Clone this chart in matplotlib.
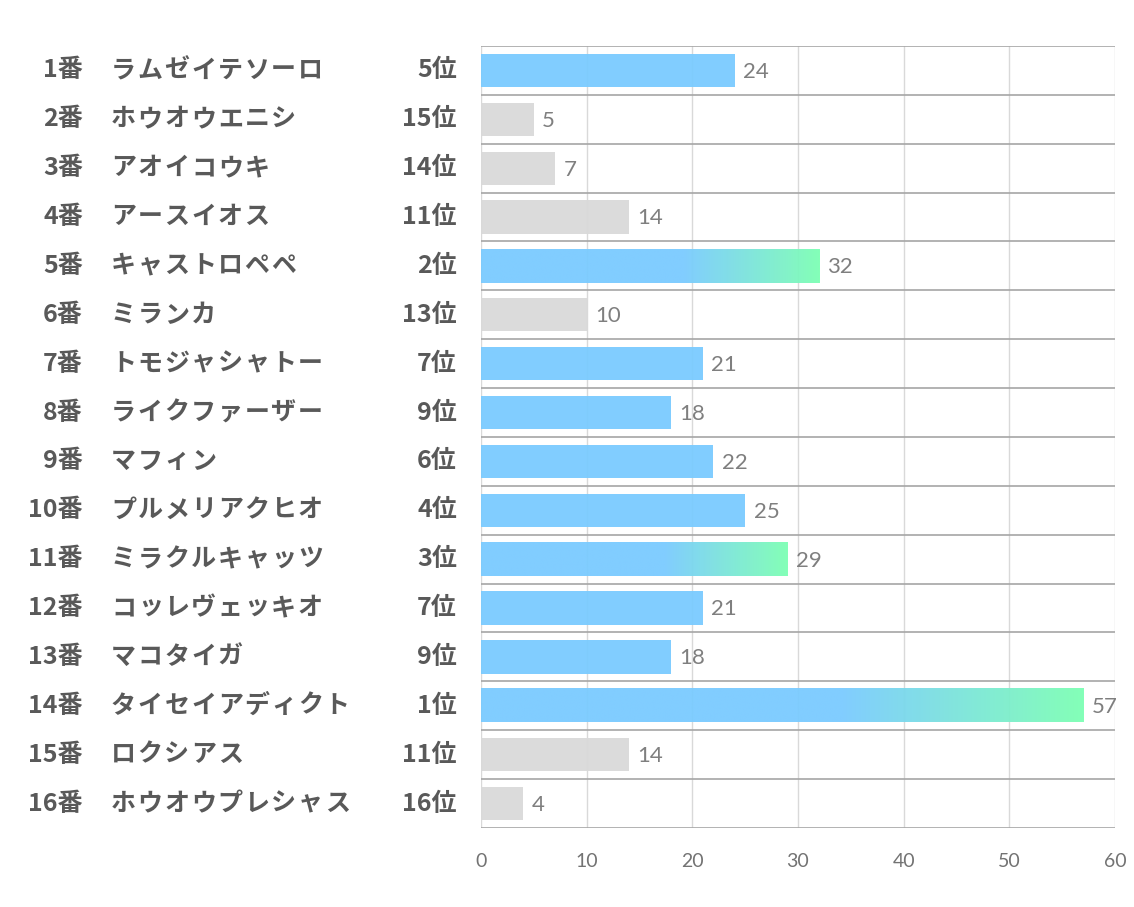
import numpy as np
import matplotlib.pyplot as plt
from matplotlib.colors import to_rgb

plt.rcParams['font.family'] = ['Noto Sans CJK JP', 'DejaVu Sans']

numbers = ["1番", "2番", "3番", "4番", "5番", "6番", "7番", "8番",
           "9番", "10番", "11番", "12番", "13番", "14番", "15番", "16番"]
names = ["ラムゼイテソーロ", "ホウオウエニシ", "アオイコウキ", "アースイオス",
         "キャストロペペ", "ミランカ", "トモジャシャトー", "ライクファーザー",
         "マフィン", "プルメリアクヒオ", "ミラクルキャッツ", "コッレヴェッキオ",
         "マコタイガ", "タイセイアディクト", "ロクシアス", "ホウオウプレシャス"]
ranks = [5, 15, 14, 11, 2, 13, 7, 9, 6, 4, 3, 7, 9, 1, 11, 16]
values = [24, 5, 7, 14, 32, 10, 21, 18, 22, 25, 29, 21, 18, 57, 14, 4]
xticks = [0, 10, 20, 30, 40, 50, 60]

BLUE = "#7ACBFF"
GREEN = "#7DFFB4"
GRAY = "#D9D9D9"
TEXT = "#595959"

fig = plt.figure(figsize=(11.34, 9.07), dpi=100)
ax = fig.add_axes([0.4242, 0.0871, 0.559, 0.8622])

n = len(values)
h = 0.68

# gradient image for top three
t = np.linspace(0, 1, 256)
mix = np.clip((t - 0.6) / 0.4, 0, 1)
b, g = np.array(to_rgb(BLUE)), np.array(to_rgb(GREEN))
grad = (b[None, :] * (1 - mix[:, None]) + g[None, :] * mix[:, None])[None, :, :]

for i, (v, r) in enumerate(zip(values, ranks)):
    if r <= 3:
        ax.imshow(grad, extent=(0, v, i + h / 2, i - h / 2), aspect='auto',
                  zorder=2, alpha=0.95, interpolation='bilinear')
    else:
        ax.barh(i, v, height=h, color=BLUE if r <= 9 else GRAY,
                alpha=0.95, zorder=2)
    ax.annotate(str(v), (v, i), xytext=(6, -1), textcoords='offset points',
                va='center', ha='left', fontsize=16, color="#7F7F7F",
                family=['Lato', 'DejaVu Sans'])

ax.set_xlim(0, 60)
ax.set_ylim(n - 0.5, -0.5)
ax.set_xticks(xticks)
ax.set_yticks([])
for x in xticks:
    ax.axvline(x, color="#D9D9D9", lw=1, zorder=1)
for k in range(n + 1):
    ax.axhline(k - 0.5, color="#A6A6A6", lw=1.2, zorder=3)
for s in ax.spines.values():
    s.set_visible(False)
ax.tick_params(axis='x', length=0, pad=18, labelsize=14, labelcolor="#737373")
for lbl in ax.get_xticklabels():
    lbl.set_family(['Lato', 'DejaVu Sans'])

# left-side labels
pitch = 26.7 / 1134
for i in range(n):
    y = ax.transData.transform((0, i))[1] / fig.dpi / 9.07
    fig.text(83 / 1134, y, numbers[i], ha='right', va='center',
             fontsize=18, fontweight='bold', color=TEXT)
    for j, ch in enumerate(names[i]):
        fig.text(111 / 1134 + j * pitch, y, ch, ha='left', va='center',
                 fontsize=18, fontweight='bold', color=TEXT)
    fig.text(457 / 1134, y, f"{ranks[i]}位", ha='right', va='center',
             fontsize=18, fontweight='bold', color=TEXT)

fig.savefig("out.png", dpi=100, facecolor="white")
